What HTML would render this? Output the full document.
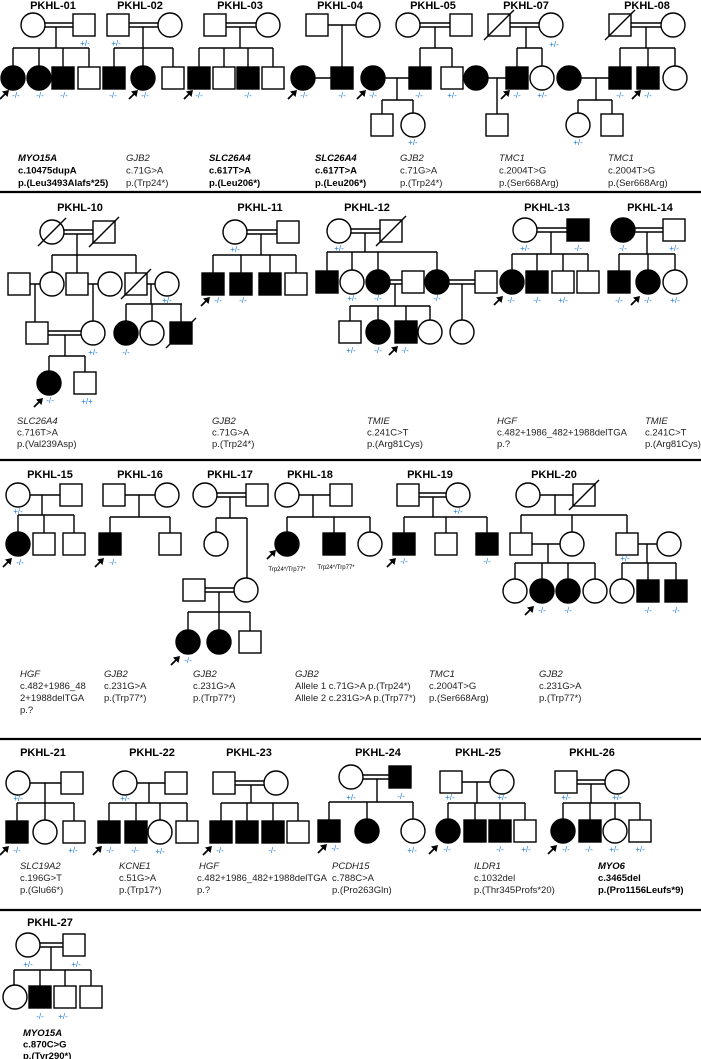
<!DOCTYPE html>
<html><head><meta charset="utf-8"><style>
html,body{margin:0;padding:0;background:#fff}
svg{display:block}
text{font-family:"Liberation Sans",Arial,sans-serif}
.t{font-size:11px;font-weight:bold;text-anchor:middle}
.g{font-size:9.5px;fill:#222}
.b{font-weight:bold;fill:#000}
.l{font-size:8px;fill:#1a7ad4;text-anchor:middle}
.s{font-size:6px;fill:#000;text-anchor:middle}
.ln{fill:none;stroke:#000;stroke-width:1.4}
.o{fill:#fff;stroke:#000;stroke-width:1.4}
.f{fill:#000;stroke:#000;stroke-width:1.4}
.sep{stroke:#000;stroke-width:2.2}
</style></head><body>
<svg width="701" height="1059" viewBox="0 0 701 1059" xmlns="http://www.w3.org/2000/svg">
<defs>
<g id="a"><path d="M0,0 L-7,1.5 L-1.5,7Z" fill="#000"/><path d="M-3,3 L-9,9" stroke="#000" stroke-width="1.8"/></g>
</defs>

<!-- ROW 1 -->
<text class="t" x="53" y="9">PKHL-01</text>
<text class="t" x="140" y="9">PKHL-02</text>
<text class="t" x="240" y="9">PKHL-03</text>
<text class="t" x="340" y="9">PKHL-04</text>
<text class="t" x="433" y="9">PKHL-05</text>
<text class="t" x="526" y="9">PKHL-07</text>
<text class="t" x="647" y="9">PKHL-08</text>

<path class="ln" d="M45,23H73M45,27H73M56,27V48M13,48H89M13,48V66M39,48V66M63,48V67M89,48V67"/>
<circle class="o" cx="33" cy="25" r="12"/><rect class="o" x="73" y="14" width="22" height="22"/>
<circle class="f" cx="13" cy="78" r="12"/><circle class="f" cx="39" cy="78" r="12"/>
<rect class="f" x="52" y="67" width="22" height="22"/><rect class="o" x="78" y="67" width="22" height="22"/>
<text class="l" x="85" y="46">+/-</text><use href="#a" x="9" y="90"/><text class="l" x="16" y="98">-/-</text>
<text class="l" x="40" y="98">-/-</text><text class="l" x="64" y="98">-/-</text>

<path class="ln" d="M127,23H158M127,27H158M143,27V48M114,48H173M114,48V67M143,48V66M173,48V67"/>
<rect class="o" x="107" y="14" width="22" height="22"/><circle class="o" cx="170" cy="25" r="12"/>
<rect class="f" x="103" y="67" width="22" height="22"/><circle class="f" cx="143" cy="78" r="12"/><rect class="o" x="162" y="67" width="22" height="22"/>
<text class="l" x="116" y="46">+/-</text><text class="l" x="113" y="98">-/-</text><use href="#a" x="138" y="90"/><text class="l" x="145" y="98">-/-</text>

<path class="ln" d="M224,23H256M224,27H256M240,27V48M199,48H273M199,48V67M224,48V67M248,48V67M273,48V67"/>
<rect class="o" x="204" y="14" width="22" height="22"/><circle class="o" cx="268" cy="25" r="12"/>
<rect class="f" x="188" y="67" width="22" height="22"/><rect class="o" x="213" y="67" width="22" height="22"/>
<rect class="f" x="237" y="67" width="22" height="22"/><rect class="o" x="262" y="67" width="22" height="22"/>
<use href="#a" x="193" y="90"/><text class="l" x="199" y="98">-/-</text><text class="l" x="248" y="98">-/-</text>

<path class="ln" d="M328,25H356M342,25V67M315,78H331"/>
<rect class="o" x="306" y="14" width="22" height="22"/><circle class="o" cx="368" cy="25" r="12"/>
<circle class="f" cx="303" cy="78" r="12"/><rect class="f" x="331" y="67" width="22" height="22"/>
<use href="#a" x="297" y="90"/><text class="l" x="304" y="98">-/-</text><text class="l" x="342" y="98">-/-</text>

<path class="ln" d="M420,23H450M420,27H450M435,27V48M420,48H452M420,48V67M452,48V67M385,78H409M397,78V100M382,100H413M382,100V114M413,100V113"/>
<circle class="o" cx="408" cy="25" r="12"/><rect class="o" x="450" y="14" width="22" height="22"/>
<rect class="f" x="409" y="67" width="22" height="22"/><rect class="o" x="441" y="67" width="22" height="22"/>
<circle class="f" cx="373" cy="78" r="12"/>
<rect class="o" x="371" y="114" width="22" height="22"/><circle class="o" cx="413" cy="125" r="12"/>
<use href="#a" x="366" y="90"/><text class="l" x="373" y="98">-/-</text><text class="l" x="419" y="98">-/-</text><text class="l" x="452" y="98">+/-</text><text class="l" x="413" y="145">+/-</text>

<path class="ln" d="M508,23H539M508,27H539M526,27V48M517,48H542M517,48V67M542,48V66M488,78H506M497,78V114"/>
<rect class="o" x="488" y="14" width="22" height="22"/><path class="ln" d="M484,40L514,10"/>
<circle class="o" cx="551" cy="25" r="12"/>
<rect class="f" x="506" y="67" width="22" height="22"/><circle class="o" cx="542" cy="78" r="12"/>
<circle class="f" cx="476" cy="78" r="12"/><rect class="o" x="486" y="114" width="22" height="22"/>
<text class="l" x="554" y="47">+/-</text><use href="#a" x="510" y="90"/><text class="l" x="517" y="98">-/-</text><text class="l" x="542" y="98">+/-</text>

<path class="ln" d="M631,23H661M631,27H661M646,27V48M620,48H675M620,48V67M648,48V67M675,48V66M581,78H609M596,78V100M578,100H612M578,100V113M612,100V114"/>
<rect class="o" x="609" y="14" width="22" height="22"/><path class="ln" d="M605,40L635,10"/>
<circle class="o" cx="673" cy="25" r="12"/>
<rect class="f" x="609" y="67" width="22" height="22"/><rect class="f" x="637" y="67" width="22" height="22"/><circle class="o" cx="675" cy="78" r="12"/>
<circle class="f" cx="569" cy="78" r="12"/>
<circle class="o" cx="578" cy="125" r="12"/><rect class="o" x="601" y="114" width="22" height="22"/>
<text class="l" x="620" y="98">-/-</text><use href="#a" x="641" y="90"/><text class="l" x="648" y="98">-/-</text><text class="l" x="578" y="145">+/-</text>

<text class="g b" x="18" y="161"><tspan font-style="italic">MYO15A</tspan><tspan x="18" dy="12.5">c.10475dupA</tspan><tspan x="18" dy="12.5">p.(Leu3493Alafs*25)</tspan></text>
<text class="g" x="126" y="161"><tspan font-style="italic">GJB2</tspan><tspan x="126" dy="12.5">c.71G&gt;A</tspan><tspan x="126" dy="12.5">p.(Trp24*)</tspan></text>
<text class="g b" x="209" y="161"><tspan font-style="italic">SLC26A4</tspan><tspan x="209" dy="12.5">c.617T&gt;A</tspan><tspan x="209" dy="12.5">p.(Leu206*)</tspan></text>
<text class="g b" x="315" y="161"><tspan font-style="italic">SLC26A4</tspan><tspan x="315" dy="12.5">c.617T&gt;A</tspan><tspan x="315" dy="12.5">p.(Leu206*)</tspan></text>
<text class="g" x="400" y="161"><tspan font-style="italic">GJB2</tspan><tspan x="400" dy="12.5">c.71G&gt;A</tspan><tspan x="400" dy="12.5">p.(Trp24*)</tspan></text>
<text class="g" x="499" y="161"><tspan font-style="italic">TMC1</tspan><tspan x="499" dy="12.5">c.2004T&gt;G</tspan><tspan x="499" dy="12.5">p.(Ser668Arg)</tspan></text>
<text class="g" x="608" y="161"><tspan font-style="italic">TMC1</tspan><tspan x="608" dy="12.5">c.2004T&gt;G</tspan><tspan x="608" dy="12.5">p.(Ser668Arg)</tspan></text>

<line class="sep" x1="0" y1="192" x2="701" y2="192"/>

<!-- ROW 2 -->
<text class="t" x="80" y="211">PKHL-10</text>
<text class="t" x="260" y="211">PKHL-11</text>
<text class="t" x="367" y="211">PKHL-12</text>
<text class="t" x="547" y="211">PKHL-13</text>
<text class="t" x="650" y="211">PKHL-14</text>

<path class="ln" d="M64,230H93M64,234H93M77,234V255M52,255H136M52,255V272M77,255V273M136,255V273
M30,284H40M35,284V322M88,284H98M93,284V321M147,284H155M151,284V304M126,304H182M126,304V321M152,304V321M181,304V322
M48,331H81M48,335H81M65,335V356M49,356H85M49,356V371M85,356V372"/>
<circle class="o" cx="52" cy="232" r="12"/><path class="ln" d="M38,246L66,218"/>
<rect class="o" x="93" y="221" width="22" height="22"/><path class="ln" d="M89,247L119,217"/>
<rect class="o" x="8" y="273" width="22" height="22"/><circle class="o" cx="52" cy="284" r="12"/>
<rect class="o" x="66" y="273" width="22" height="22"/><circle class="o" cx="110" cy="284" r="12"/>
<rect class="o" x="125" y="273" width="22" height="22"/><path class="ln" d="M121,299L151,269"/>
<circle class="o" cx="167" cy="284" r="12"/>
<rect class="o" x="26" y="322" width="22" height="22"/><circle class="o" cx="93" cy="333" r="12"/>
<circle class="f" cx="126" cy="333" r="12"/><circle class="o" cx="152" cy="333" r="12"/>
<rect class="f" x="170" y="322" width="22" height="22"/><path class="ln" d="M166,348L196,318"/>
<circle class="f" cx="49" cy="383" r="12"/><rect class="o" x="74" y="372" width="22" height="22"/>
<text class="l" x="167" y="303">+/-</text><text class="l" x="93" y="355">+/-</text><text class="l" x="126" y="355">-/-</text>
<use href="#a" x="43" y="398"/><text class="l" x="50" y="403">-/-</text><text class="l" x="87" y="404">+/+</text>

<path class="ln" d="M247,230H277M247,234H277M261,234V255M213,255H296M213,255V273M241,255V273M270,255V273M296,255V273"/>
<circle class="o" cx="235" cy="232" r="12"/><rect class="o" x="277" y="221" width="22" height="22"/>
<rect class="f" x="202" y="273" width="22" height="22"/><rect class="f" x="230" y="273" width="22" height="22"/>
<rect class="f" x="259" y="273" width="22" height="22"/><rect class="o" x="285" y="273" width="22" height="22"/>
<text class="l" x="235" y="252">+/-</text><use href="#a" x="210" y="297"/><text class="l" x="218" y="303">-/-</text><text class="l" x="243" y="303">-/-</text>

<path class="ln" d="M351,229H380M351,233H380M365,233V252M327,252H437M327,252V271M352,252V270M378,252V270M437,252V270
M390,280H402M390,284H402M395,284V306M350,306H430M350,306V321M378,306V320M406,306V321M430,306V320
M449,280H475M449,284H475M462,284V320"/>
<circle class="o" cx="339" cy="231" r="12"/><rect class="o" x="380" y="220" width="22" height="22"/><path class="ln" d="M376,246L406,216"/>
<rect class="f" x="316" y="271" width="22" height="22"/><circle class="o" cx="352" cy="282" r="12"/>
<circle class="f" cx="378" cy="282" r="12"/><rect class="o" x="402" y="271" width="22" height="22"/>
<circle class="f" cx="437" cy="282" r="12"/><rect class="o" x="475" y="271" width="22" height="22"/>
<rect class="o" x="339" y="321" width="22" height="22"/><circle class="f" cx="378" cy="332" r="12"/>
<rect class="f" x="395" y="321" width="22" height="22"/><circle class="o" cx="430" cy="332" r="12"/>
<circle class="o" cx="462" cy="332" r="12"/>
<text class="l" x="339" y="251">+/-</text><text class="l" x="352" y="301">+/-</text><text class="l" x="378" y="301">-/-</text><text class="l" x="437" y="301">-/-</text>
<text class="l" x="351" y="353">+/-</text><text class="l" x="378" y="353">-/-</text><use href="#a" x="398" y="346"/><text class="l" x="405" y="353">-/-</text>

<path class="ln" d="M537,228H567M537,232H567M551,232V254M512,254H588M512,254V270M537,254V271M563,254V271M588,254V271"/>
<circle class="o" cx="525" cy="230" r="12"/><rect class="f" x="567" y="219" width="22" height="22"/>
<circle class="f" cx="512" cy="282" r="12"/><rect class="f" x="526" y="271" width="22" height="22"/>
<rect class="o" x="552" y="271" width="22" height="22"/><rect class="o" x="577" y="271" width="22" height="22"/>
<text class="l" x="525" y="251">+/-</text><text class="l" x="578" y="251">-/-</text>
<use href="#a" x="503" y="296"/><text class="l" x="511" y="303">-/-</text><text class="l" x="537" y="303">-/-</text><text class="l" x="563" y="303">+/-</text>

<path class="ln" d="M635,228H663M635,232H663M647,232V254M619,254H675M619,254V271M648,254V270M675,254V270"/>
<circle class="f" cx="623" cy="230" r="12"/><rect class="o" x="663" y="219" width="22" height="22"/>
<rect class="f" x="608" y="271" width="22" height="22"/><circle class="f" cx="648" cy="282" r="12"/><circle class="o" cx="675" cy="282" r="12"/>
<text class="l" x="623" y="251">-/-</text><text class="l" x="674" y="251">+/-</text>
<text class="l" x="619" y="303">-/-</text><use href="#a" x="640" y="296"/><text class="l" x="648" y="303">-/-</text><text class="l" x="675" y="303">+/-</text>

<text class="g" x="17" y="424"><tspan font-style="italic">SLC26A4</tspan><tspan x="17" dy="11.5">c.716T&gt;A</tspan><tspan x="17" dy="11.5">p.(Val239Asp)</tspan></text>
<text class="g" x="212" y="424"><tspan font-style="italic">GJB2</tspan><tspan x="212" dy="11.5">c.71G&gt;A</tspan><tspan x="212" dy="11.5">p.(Trp24*)</tspan></text>
<text class="g" x="367" y="424"><tspan font-style="italic">TMIE</tspan><tspan x="367" dy="11.5">c.241C&gt;T</tspan><tspan x="367" dy="11.5">p.(Arg81Cys)</tspan></text>
<text class="g" x="497" y="424"><tspan font-style="italic">HGF</tspan><tspan x="497" dy="11.5">c.482+1986_482+1988delTGA</tspan><tspan x="497" dy="11.5">p.?</tspan></text>
<text class="g" x="645" y="424"><tspan font-style="italic">TMIE</tspan><tspan x="645" dy="11.5">c.241C&gt;T</tspan><tspan x="645" dy="11.5">p.(Arg81Cys)</tspan></text>

<line class="sep" x1="0" y1="460" x2="701" y2="460"/>

<!-- ROW 3 -->
<text class="t" x="50" y="478">PKHL-15</text>
<text class="t" x="140" y="478">PKHL-16</text>
<text class="t" x="230" y="478">PKHL-17</text>
<text class="t" x="310" y="478">PKHL-18</text>
<text class="t" x="430" y="478">PKHL-19</text>
<text class="t" x="554" y="478">PKHL-20</text>

<path class="ln" d="M30,495H60M42,495V515M18,515H74M18,515V532M44,515V533M74,515V533"/>
<circle class="o" cx="18" cy="495" r="12"/><rect class="o" x="60" y="484" width="22" height="22"/>
<circle class="f" cx="18" cy="544" r="12"/><rect class="o" x="33" y="533" width="22" height="22"/><rect class="o" x="63" y="533" width="22" height="22"/>
<text class="l" x="18" y="514">+/-</text><use href="#a" x="12" y="558"/><text class="l" x="20" y="565">-/-</text>

<path class="ln" d="M125,495H155M139,495V517M110,517H170M110,517V533M170,517V533"/>
<rect class="o" x="103" y="484" width="22" height="22"/><circle class="o" cx="167" cy="495" r="12"/>
<rect class="f" x="99" y="533" width="22" height="22"/><rect class="o" x="159" y="533" width="22" height="22"/>
<use href="#a" x="104" y="558"/><text class="l" x="113" y="565">-/-</text>

<path class="ln" d="M217,493H246M217,497H246M230,497V518M216,518H247M216,518V532M247,518V578M205,588H234M205,592H234M219,592V612M188,612H250M188,612V630M219,612V630M250,612V631"/>
<circle class="o" cx="205" cy="495" r="12"/><rect class="o" x="246" y="484" width="22" height="22"/>
<circle class="o" cx="216" cy="544" r="12"/>
<rect class="o" x="183" y="579" width="22" height="22"/><circle class="o" cx="246" cy="590" r="12"/>
<circle class="f" cx="188" cy="642" r="12"/><circle class="f" cx="219" cy="642" r="12"/><rect class="o" x="239" y="631" width="22" height="22"/>
<use href="#a" x="180" y="656"/><text class="l" x="188" y="663">-/-</text>

<path class="ln" d="M299,495H330M313,495V517M287,517H370M287,517V532M334,517V533M370,517V532"/>
<circle class="o" cx="287" cy="495" r="12"/><rect class="o" x="330" y="484" width="22" height="22"/>
<circle class="f" cx="287" cy="544" r="12"/><rect class="f" x="323" y="533" width="22" height="22"/><circle class="o" cx="370" cy="544" r="12"/>
<use href="#a" x="276" y="550"/>
<text class="s" x="287" y="571">Trp24*/Trp77*</text><text class="s" x="336" y="569">Trp24*/Trp77*</text>

<path class="ln" d="M418,493H446M418,497H446M433,497V517M404,517H487M404,517V533M446,517V533M487,517V533"/>
<rect class="o" x="397" y="484" width="22" height="22"/><circle class="o" cx="458" cy="495" r="12"/>
<rect class="f" x="393" y="533" width="22" height="22"/><rect class="o" x="435" y="533" width="22" height="22"/><rect class="f" x="476" y="533" width="22" height="22"/>
<text class="l" x="458" y="514">+/-</text><use href="#a" x="396" y="558"/><text class="l" x="404" y="564">-/-</text><text class="l" x="487" y="564">-/-</text>

<path class="ln" d="M540,495H573M555,495V515M521,515H627M521,515V533M572,515V532M627,515V533
M532,544H560M548,544V563M515,563H595M515,563V579M542,563V579M568,563V579M595,563V579
M638,544H657M647,544V563M622,563H676M622,563V579M648,563V580M676,563V580"/>
<circle class="o" cx="528" cy="495" r="12"/><rect class="o" x="573" y="484" width="22" height="22"/><path class="ln" d="M569,510L599,480"/>
<rect class="o" x="510" y="533" width="22" height="22"/><circle class="o" cx="572" cy="544" r="12"/>
<rect class="o" x="616" y="533" width="22" height="22"/><circle class="o" cx="669" cy="544" r="12"/>
<circle class="o" cx="515" cy="591" r="12"/><circle class="f" cx="542" cy="591" r="12"/><circle class="f" cx="568" cy="591" r="12"/>
<circle class="o" cx="595" cy="591" r="12"/><circle class="o" cx="622" cy="591" r="12"/>
<rect class="f" x="637" y="580" width="22" height="22"/><rect class="f" x="665" y="580" width="22" height="22"/>
<text class="l" x="625" y="561">+/-</text><use href="#a" x="534" y="606"/><text class="l" x="542" y="613">-/-</text>
<text class="l" x="568" y="613">-/-</text><text class="l" x="648" y="613">-/-</text><text class="l" x="676" y="613">-/-</text>

<text class="g" x="20" y="677"><tspan font-style="italic">HGF</tspan><tspan x="20" dy="12">c.482+1986_48</tspan><tspan x="20" dy="12">2+1988delTGA</tspan><tspan x="20" dy="12">p.?</tspan></text>
<text class="g" x="104" y="677"><tspan font-style="italic">GJB2</tspan><tspan x="104" dy="12">c.231G&gt;A</tspan><tspan x="104" dy="12">p.(Trp77*)</tspan></text>
<text class="g" x="193" y="677"><tspan font-style="italic">GJB2</tspan><tspan x="193" dy="12">c.231G&gt;A</tspan><tspan x="193" dy="12">p.(Trp77*)</tspan></text>
<text class="g" x="295" y="677"><tspan font-style="italic">GJB2</tspan><tspan x="295" dy="12">Allele 1 c.71G&gt;A p.(Trp24*)</tspan><tspan x="295" dy="12">Allele 2 c.231G&gt;A p.(Trp77*)</tspan></text>
<text class="g" x="429" y="677"><tspan font-style="italic">TMC1</tspan><tspan x="429" dy="12">c.2004T&gt;G</tspan><tspan x="429" dy="12">p.(Ser668Arg)</tspan></text>
<text class="g" x="539" y="677"><tspan font-style="italic">GJB2</tspan><tspan x="539" dy="12">c.231G&gt;A</tspan><tspan x="539" dy="12">p.(Trp77*)</tspan></text>

<line class="sep" x1="0" y1="739" x2="701" y2="739"/>

<!-- ROW 4 -->
<text class="t" x="43" y="756">PKHL-21</text>
<text class="t" x="152" y="756">PKHL-22</text>
<text class="t" x="249" y="756">PKHL-23</text>
<text class="t" x="378" y="756">PKHL-24</text>
<text class="t" x="478" y="756">PKHL-25</text>
<text class="t" x="592" y="756">PKHL-26</text>

<path class="ln" d="M30,783H61M45,783V803M17,803H74M17,803V821M45,803V820M74,803V821"/>
<circle class="o" cx="18" cy="783" r="12"/><rect class="o" x="61" y="772" width="22" height="22"/>
<rect class="f" x="6" y="821" width="22" height="22"/><circle class="o" cx="45" cy="832" r="12"/><rect class="o" x="63" y="821" width="22" height="22"/>
<text class="l" x="18" y="801">+/-</text><use href="#a" x="9" y="846"/><text class="l" x="17" y="853">-/-</text><text class="l" x="73" y="853">+/-</text>

<path class="ln" d="M137,783H165M149,783V803M109,803H187M109,803V821M136,803V821M160,803V820M187,803V821"/>
<circle class="o" cx="125" cy="783" r="12"/><rect class="o" x="165" y="772" width="22" height="22"/>
<rect class="f" x="98" y="821" width="22" height="22"/><rect class="f" x="125" y="821" width="22" height="22"/>
<circle class="o" cx="160" cy="832" r="12"/><rect class="o" x="176" y="821" width="22" height="22"/>
<text class="l" x="125" y="801">+/-</text><use href="#a" x="102" y="846"/><text class="l" x="110" y="853">-/-</text>
<text class="l" x="135" y="853">-/-</text><text class="l" x="160" y="854">+/-</text>

<path class="ln" d="M235,781H264M235,785H264M251,785V803M221,803H298M221,803V821M247,803V821M273,803V821M298,803V821"/>
<rect class="o" x="213" y="772" width="22" height="22"/><circle class="o" cx="276" cy="783" r="12"/>
<rect class="f" x="210" y="821" width="22" height="22"/><rect class="f" x="236" y="821" width="22" height="22"/>
<rect class="f" x="262" y="821" width="22" height="22"/><rect class="o" x="287" y="821" width="22" height="22"/>
<use href="#a" x="212" y="846"/><text class="l" x="220" y="853">-/-</text><text class="l" x="272" y="853">-/-</text>

<path class="ln" d="M363,775H389M363,779H389M377,779V802M329,802H413M329,802V820M367,802V819M413,802V819"/>
<circle class="o" cx="351" cy="777" r="12"/><rect class="f" x="389" y="766" width="22" height="22"/>
<rect class="f" x="318" y="820" width="22" height="22"/><circle class="f" cx="367" cy="831" r="12"/><circle class="o" cx="413" cy="831" r="12"/>
<text class="l" x="351" y="800">+/-</text><text class="l" x="401" y="799">-/-</text>
<use href="#a" x="327" y="844"/><text class="l" x="335" y="851">-/-</text><text class="l" x="412" y="853">+/-</text>

<path class="ln" d="M462,782H490M477,782V803M448,803H525M448,803V819M475,803V820M500,803V820M525,803V820"/>
<rect class="o" x="440" y="771" width="22" height="22"/><circle class="o" cx="502" cy="782" r="12"/>
<circle class="f" cx="448" cy="831" r="12"/><rect class="f" x="464" y="820" width="22" height="22"/>
<rect class="f" x="489" y="820" width="22" height="22"/><rect class="o" x="514" y="820" width="22" height="22"/>
<text class="l" x="450" y="800">+/-</text><text class="l" x="502" y="800">+/-</text>
<use href="#a" x="438" y="845"/><text class="l" x="447" y="852">-/-</text><text class="l" x="500" y="852">-/-</text><text class="l" x="526" y="852">+/-</text>

<path class="ln" d="M577,780H605M577,784H605M591,784V803M563,803H640M563,803V819M590,803V820M615,803V819M640,803V820"/>
<rect class="o" x="555" y="771" width="22" height="22"/><circle class="o" cx="617" cy="782" r="12"/>
<circle class="f" cx="563" cy="831" r="12"/><rect class="f" x="579" y="820" width="22" height="22"/>
<circle class="o" cx="615" cy="831" r="12"/><rect class="o" x="629" y="820" width="22" height="22"/>
<text class="l" x="566" y="800">+/-</text><text class="l" x="617" y="800">+/-</text>
<use href="#a" x="557" y="845"/><text class="l" x="566" y="852">-/-</text><text class="l" x="589" y="852">-/-</text>
<text class="l" x="614" y="852">+/-</text><text class="l" x="640" y="852">+/-</text>

<text class="g" x="20" y="869"><tspan font-style="italic">SLC19A2</tspan><tspan x="20" dy="12">c.196G&gt;T</tspan><tspan x="20" dy="12">p.(Glu66*)</tspan></text>
<text class="g" x="119" y="869"><tspan font-style="italic">KCNE1</tspan><tspan x="119" dy="12">c.51G&gt;A</tspan><tspan x="119" dy="12">p.(Trp17*)</tspan></text>
<text class="g" x="199" y="869"><tspan font-style="italic">HGF</tspan><tspan x="197" dy="12">c.482+1986_482+1988delTGA</tspan><tspan x="197" dy="12">p.?</tspan></text>
<text class="g" x="332" y="869"><tspan font-style="italic">PCDH15</tspan><tspan x="332" dy="12">c.788C&gt;A</tspan><tspan x="332" dy="12">p.(Pro263Gln)</tspan></text>
<text class="g" x="474" y="869"><tspan font-style="italic">ILDR1</tspan><tspan x="474" dy="12">c.1032del</tspan><tspan x="474" dy="12">p.(Thr345Profs*20)</tspan></text>
<text class="g b" x="598" y="869"><tspan font-style="italic">MYO6</tspan><tspan x="598" dy="12">c.3465del</tspan><tspan x="598" dy="12">p.(Pro1156Leufs*9)</tspan></text>

<line class="sep" x1="0" y1="910" x2="701" y2="910"/>

<!-- ROW 5 -->
<text class="t" x="50" y="926">PKHL-27</text>
<path class="ln" d="M40,943H63M40,947H63M51,947V970M14,970H91M14,970V985M40,970V986M65,970V986M91,970V986"/>
<circle class="o" cx="28" cy="945" r="12"/><rect class="o" x="63" y="934" width="22" height="22"/>
<circle class="o" cx="15" cy="997" r="12"/><rect class="f" x="29" y="986" width="22" height="22"/>
<rect class="o" x="54" y="986" width="22" height="22"/><rect class="o" x="80" y="986" width="22" height="22"/>
<text class="l" x="28" y="967">+/-</text><text class="l" x="76" y="967">+/-</text>
<text class="l" x="40" y="1019">-/-</text><text class="l" x="63" y="1019">+/-</text>
<text class="g b" x="23" y="1036"><tspan font-style="italic">MYO15A</tspan><tspan x="23" dy="11.5">c.870C&gt;G</tspan><tspan x="23" dy="11.5">p.(Tyr290*)</tspan></text>
</svg>
</body></html>
